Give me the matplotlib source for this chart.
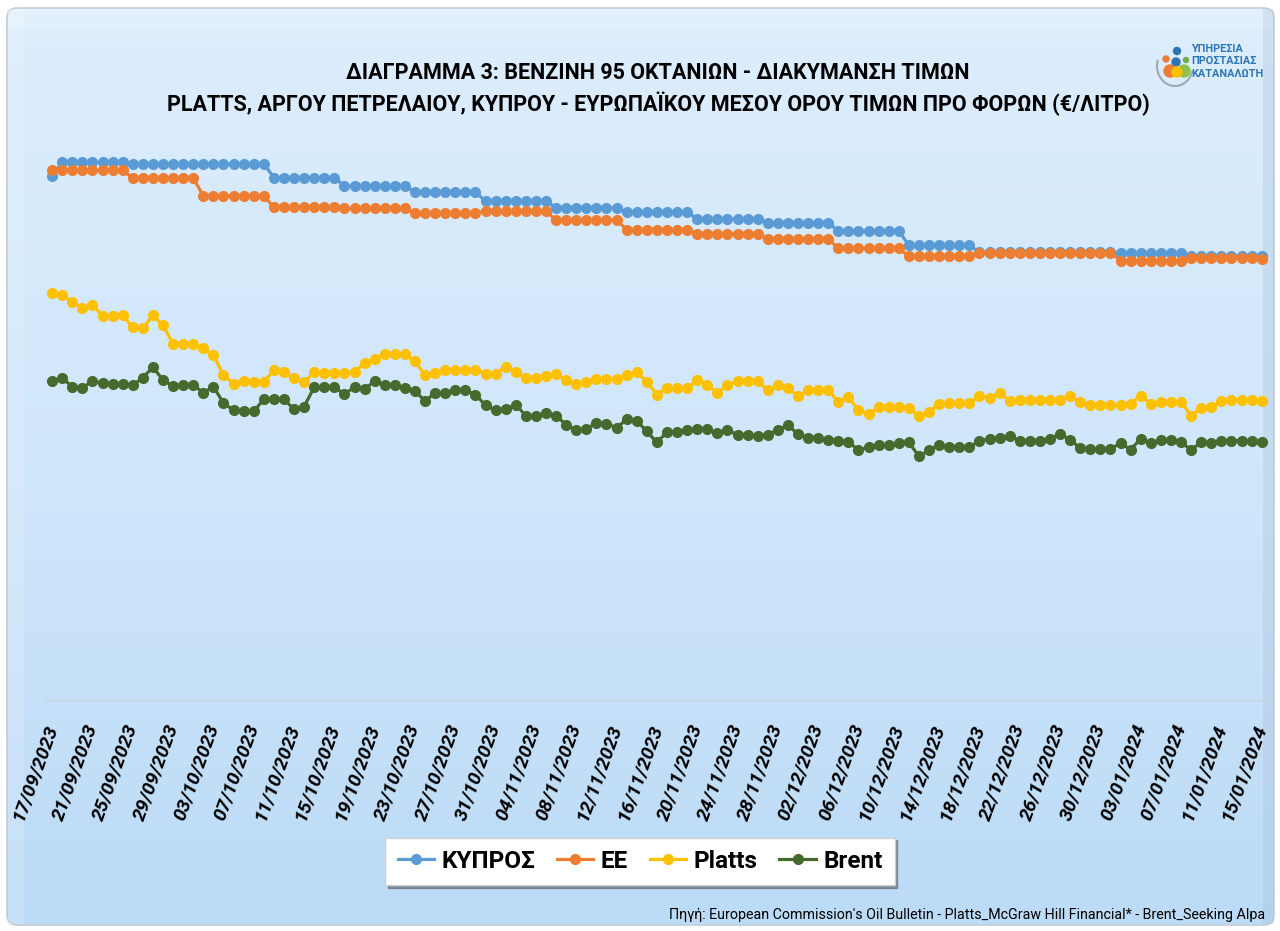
import matplotlib.pyplot as plt
import numpy as np
import pandas as pd
from matplotlib.colors import LinearSegmentedColormap
from matplotlib.patches import FancyBboxPatch, Circle, Arc

plt.rcParams['font.family'] = ['Roboto', 'DejaVu Sans']

# daily prices, 17/09/2023 - 15/01/2024 (€/litre, pre-tax)
dates = pd.date_range("2023-09-17", "2024-01-15", freq="D")

kypros = [0.865,
          0.888, 0.888, 0.888, 0.888, 0.888, 0.888, 0.888,
          0.886, 0.886, 0.886, 0.886, 0.886, 0.886, 0.886,
          0.886, 0.886, 0.886, 0.886, 0.886, 0.886, 0.886,
          0.863, 0.863, 0.863, 0.863, 0.863, 0.863, 0.863,
          0.849, 0.849, 0.849, 0.849, 0.849, 0.849, 0.849,
          0.839, 0.839, 0.839, 0.839, 0.839, 0.839, 0.839,
          0.824, 0.824, 0.824, 0.824, 0.824, 0.824, 0.824,
          0.813, 0.813, 0.813, 0.813, 0.813, 0.813, 0.813,
          0.806, 0.806, 0.806, 0.806, 0.806, 0.806, 0.806,
          0.795, 0.795, 0.795, 0.795, 0.795, 0.795, 0.795,
          0.788, 0.788, 0.788, 0.788, 0.788, 0.788, 0.788,
          0.775, 0.775, 0.775, 0.775, 0.775, 0.775, 0.775,
          0.751, 0.751, 0.751, 0.751, 0.751, 0.751, 0.751,
          0.740, 0.740, 0.740, 0.740, 0.740, 0.740, 0.740,
          0.740, 0.740, 0.740, 0.740, 0.740, 0.740, 0.740,
          0.738, 0.738, 0.738, 0.738, 0.738, 0.738, 0.738,
          0.733, 0.733, 0.733, 0.733, 0.733, 0.733, 0.733,
          0.733]

ee = [0.875,
      0.875, 0.875, 0.875, 0.875, 0.875, 0.875, 0.875,
      0.862, 0.862, 0.862, 0.862, 0.862, 0.862, 0.862,
      0.833, 0.833, 0.833, 0.833, 0.833, 0.833, 0.833,
      0.814, 0.814, 0.814, 0.814, 0.814, 0.814, 0.814,
      0.812, 0.812, 0.812, 0.812, 0.812, 0.812, 0.812,
      0.805, 0.805, 0.805, 0.805, 0.805, 0.805, 0.805,
      0.807, 0.807, 0.807, 0.807, 0.807, 0.807, 0.807,
      0.793, 0.793, 0.793, 0.793, 0.793, 0.793, 0.793,
      0.777, 0.777, 0.777, 0.777, 0.777, 0.777, 0.777,
      0.770, 0.770, 0.770, 0.770, 0.770, 0.770, 0.770,
      0.762, 0.762, 0.762, 0.762, 0.762, 0.762, 0.762,
      0.746, 0.746, 0.746, 0.746, 0.746, 0.746, 0.746,
      0.733, 0.733, 0.733, 0.733, 0.733, 0.733, 0.733,
      0.739, 0.739, 0.739, 0.739, 0.739, 0.739, 0.739,
      0.739, 0.739, 0.739, 0.739, 0.739, 0.739, 0.739,
      0.726, 0.726, 0.726, 0.726, 0.726, 0.726, 0.726,
      0.731, 0.731, 0.731, 0.731, 0.731, 0.731, 0.731,
      0.728]

platts = [0.672,
          0.670, 0.657, 0.648, 0.653, 0.635, 0.635, 0.636,
          0.616, 0.614, 0.636, 0.619, 0.589, 0.589, 0.589,
          0.582, 0.570, 0.537, 0.523, 0.528, 0.526, 0.526,
          0.545, 0.542, 0.532, 0.525, 0.542, 0.541, 0.541,
          0.541, 0.542, 0.557, 0.564, 0.572, 0.572, 0.572,
          0.560, 0.537, 0.540, 0.545, 0.546, 0.546, 0.546,
          0.539, 0.539, 0.551, 0.542, 0.532, 0.533, 0.535,
          0.539, 0.529, 0.523, 0.526, 0.530, 0.530, 0.530,
          0.538, 0.542, 0.526, 0.505, 0.516, 0.515, 0.515,
          0.529, 0.521, 0.507, 0.521, 0.527, 0.527, 0.527,
          0.512, 0.520, 0.516, 0.502, 0.512, 0.512, 0.512,
          0.493, 0.501, 0.479, 0.473, 0.484, 0.484, 0.484,
          0.483, 0.469, 0.476, 0.490, 0.491, 0.491, 0.491,
          0.502, 0.500, 0.507, 0.495, 0.496, 0.496, 0.496,
          0.496, 0.496, 0.503, 0.492, 0.488, 0.488, 0.488,
          0.488, 0.490, 0.503, 0.490, 0.493, 0.493, 0.493,
          0.470, 0.483, 0.484, 0.495, 0.496, 0.496, 0.496,
          0.495]

brent = [0.528,
         0.532, 0.518, 0.516, 0.527, 0.524, 0.523, 0.523,
         0.520, 0.533, 0.550, 0.529, 0.519, 0.520, 0.521,
         0.508, 0.518, 0.491, 0.479, 0.477, 0.477, 0.497,
         0.498, 0.497, 0.481, 0.485, 0.517, 0.517, 0.517,
         0.506, 0.517, 0.514, 0.527, 0.520, 0.520, 0.515,
         0.510, 0.495, 0.507, 0.507, 0.512, 0.512, 0.505,
         0.487, 0.479, 0.481, 0.488, 0.470, 0.470, 0.474,
         0.470, 0.455, 0.446, 0.448, 0.458, 0.457, 0.450,
         0.464, 0.462, 0.444, 0.426, 0.443, 0.443, 0.446,
         0.448, 0.448, 0.441, 0.446, 0.439, 0.439, 0.436,
         0.439, 0.447, 0.454, 0.440, 0.434, 0.434, 0.430,
         0.429, 0.427, 0.413, 0.418, 0.421, 0.421, 0.425,
         0.426, 0.403, 0.413, 0.422, 0.419, 0.418, 0.419,
         0.428, 0.432, 0.433, 0.436, 0.429, 0.429, 0.429,
         0.432, 0.440, 0.430, 0.417, 0.415, 0.415, 0.415,
         0.425, 0.414, 0.432, 0.425, 0.430, 0.430, 0.426,
         0.414, 0.426, 0.425, 0.429, 0.429, 0.429, 0.429,
         0.427]

series = [("ΚΥΠΡΟΣ", kypros, "#5B9BD5"),
          ("ΕΕ", ee, "#ED7D31"),
          ("Platts", platts, "#FFC000"),
          ("Brent", brent, "#46692D")]

fig = plt.figure(figsize=(12.8, 9.31), dpi=100)
fig.patch.set_facecolor("white")

# background panel with vertical gradient
bg = fig.add_axes([0, 0, 1, 1], zorder=-10)
bg.set_xlim(0, 1280)
bg.set_ylim(931, 0)
bg.axis("off")
cmap = LinearSegmentedColormap.from_list("bg", ["#DDEEFD", "#D0E6FB", "#BCDBF6"])
grad = np.linspace(0, 1, 256).reshape(-1, 1)
panel = FancyBboxPatch((7, 8), 1267, 917, boxstyle="round,pad=0,rounding_size=10",
                       facecolor="none", edgecolor="#C4CDD6", linewidth=1.2)
bg.add_patch(panel)
im = bg.imshow(grad, aspect="auto", cmap=cmap, extent=(7, 1274, 925, 8))
im.set_clip_path(panel)
# soft bevel strips
bg.add_patch(plt.Rectangle((8, 9), 1265, 20, color="white", alpha=0.2, lw=0))
bg.add_patch(plt.Rectangle((8, 9), 16, 915, color="white", alpha=0.15, lw=0))
bg.add_patch(plt.Rectangle((1263, 9), 11, 915, color="#9FB7CC", alpha=0.25, lw=0))

ax = fig.add_axes([0.0352, 0.2475, 0.956, 0.6015])
ax.patch.set_alpha(0)
x = np.arange(len(dates))
for name, vals, col in series:
    ax.plot(x, vals, color=col, lw=2.3, marker="o", ms=7, label=name)

ax.set_xlim(-0.7, len(dates) - 0.3)
ax.set_ylim(0, 0.924)
ax.set_yticks([])
for s in ax.spines.values():
    s.set_visible(False)
ax.spines["bottom"].set_visible(True)
ax.spines["bottom"].set_color("#CBD6E2")
ax.spines["bottom"].set_linewidth(1.2)
ticks = x[::4]
ax.set_xticks(ticks)
ax.set_xticklabels([d.strftime("%d/%m/%Y") for d in dates[::4]], rotation=70,
                   ha="right", va="center", rotation_mode="anchor",
                   fontsize=14, fontweight="bold", fontstyle="italic")
ax.tick_params(axis="x", length=0, pad=17)

fig.text(0.514, 0.922, "ΔΙΑΓΡΑΜΜΑ 3: ΒΕΝΖΙΝΗ 95 ΟΚΤΑΝΙΩΝ - ΔΙΑΚΥΜΑΝΣΗ ΤΙΜΩΝ",
         ha="center", va="center", fontsize=15.5, fontweight="bold")
fig.text(0.514, 0.889,
         "PLATTS, ΑΡΓΟΥ ΠΕΤΡΕΛΑΙΟΥ, ΚΥΠΡΟΥ - ΕΥΡΩΠΑΪΚΟΥ ΜΕΣΟΥ ΟΡΟΥ ΤΙΜΩΝ ΠΡΟ ΦΟΡΩΝ (€/ΛΙΤΡΟ)",
         ha="center", va="center", fontsize=15.5, fontweight="bold")

# logo
bg.add_patch(Arc((1175, 66), 36, 40, theta1=15, theta2=200, color="#A0A8B0", lw=1.5))
for cx, cy, r, c in [(1177, 51, 3.5, "#2E75B6"), (1166, 59, 3, "#ED7D31"),
                     (1186, 60, 2.5, "#70AD47"), (1176, 62, 4, "#2E75B6"),
                     (1170, 71, 6, "#ED7D31"), (1184, 71, 6, "#8CC152"),
                     (1177, 72, 5, "#FFC000")]:
    bg.add_patch(Circle((cx, cy), r, color=c))
for i, w in enumerate(["ΥΠΗΡΕΣΙΑ", "ΠΡΟΣΤΑΣΙΑΣ", "ΚΑΤΑΝΑΛΩΤΗ"]):
    fig.text(0.9305, 1 - (49 + i * 12.5) / 931, w, ha="left", va="center",
             fontsize=7.8, color="#2E75B6", fontweight="bold")

leg = fig.legend(loc="center", bbox_to_anchor=(0.5, 0.075), ncol=4,
                 frameon=True, fancybox=False, shadow=True, handlelength=1.5,
                 columnspacing=0.9, handletextpad=0.3, borderpad=0.5,
                 prop={"size": 17.5, "weight": "bold"})
leg.get_frame().set_edgecolor("#D0D0D0")
leg.get_frame().set_facecolor("white")

fig.text(0.988, 0.017,
         "Πηγή: European Commission's Oil Bulletin - Platts_McGraw Hill Financial* - Brent_Seeking Alpa",
         ha="right", va="center", fontsize=10.3)

fig.savefig("out.png", dpi=100)
